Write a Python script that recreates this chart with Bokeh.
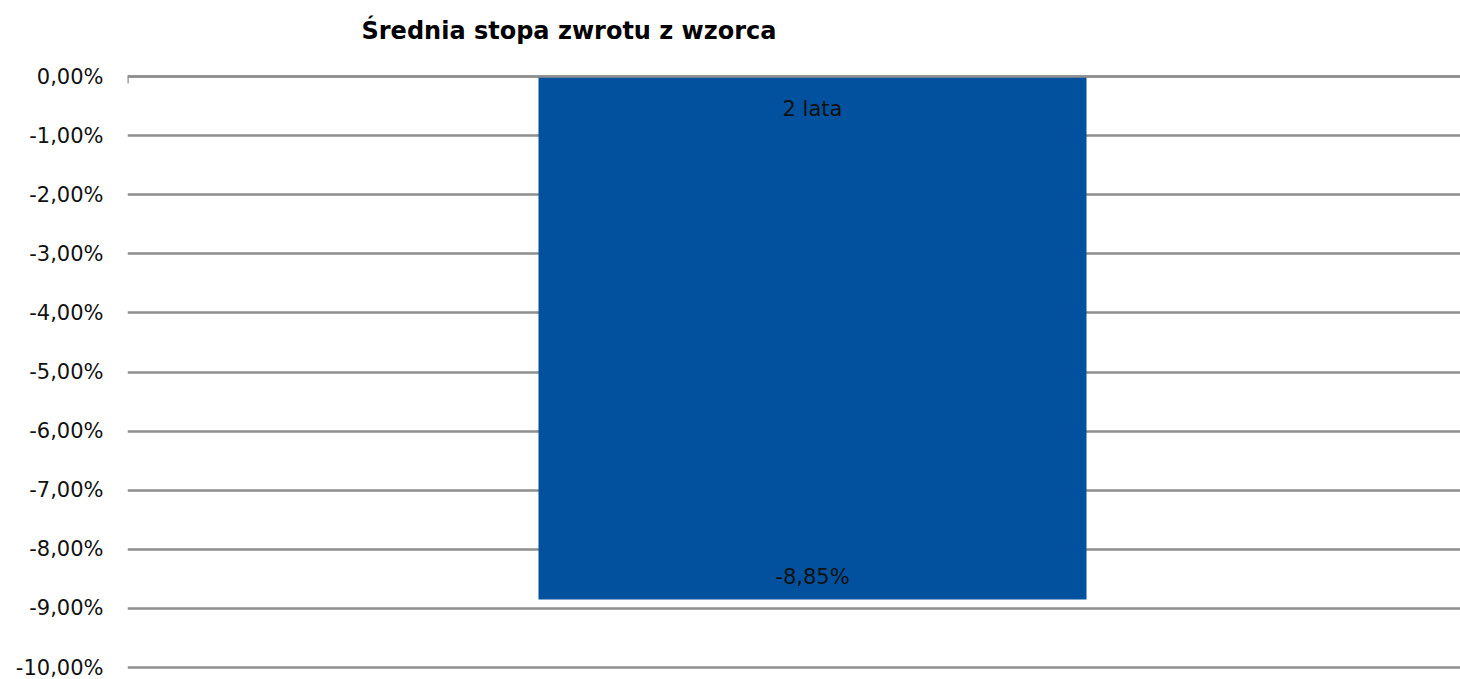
from bokeh.plotting import figure
from bokeh.models import Range1d, FixedTicker, LinearAxis, ColumnDataSource, CustomJSTickFormatter, Label
from bokeh.core.properties import value
from bokeh.embed import file_html
from bokeh.resources import INLINE

title_text = "Średnia stopa zwrotu z wzorca"
categories = ["2 lata"]
values = [-8.85]
value_labels = ["-8,85%"]
y_ticks = [0, -1, -2, -3, -4, -5, -6, -7, -8, -9, -10]

FONT = "DejaVu Sans"
idx = [i + 0.5 for i in range(len(categories))]
src = ColumnDataSource(dict(x=idx, top=[0] * len(values), bottom=values,
                            cat=categories, lab=value_labels))

p = figure(width=1460, height=679, output_backend="svg", toolbar_location=None,
           x_range=Range1d(0, 0.973 * len(categories)), y_range=Range1d(-10.05, 1.286),
           min_border_left=127, min_border_right=0, min_border_top=0, min_border_bottom=9,
           outline_line_color=None)

title = Label(x=0, y=0, text=title_text, x_offset=234, y_offset=46,
              text_align="left", text_baseline="middle", text_font=FONT,
              text_font_size="24px", text_font_style="bold", text_color="#000000")
p.add_layout(title)

p.vbar(x="x", top="top", bottom="bottom", width=0.4, source=src,
       fill_color="#01519E", line_color=None)

p.text(x="x", y="top", text="cat", source=src, text_align="center", text_baseline="top",
       y_offset=20, text_font=value(FONT), text_font_size="21px", text_color="#111111")
p.text(x="x", y="bottom", text="lab", source=src, text_align="center", text_baseline="bottom",
       y_offset=-11, text_font=value(FONT), text_font_size="21px", text_color="#111111")

p.xaxis.visible = False
p.xgrid.visible = False
p.ygrid.ticker = FixedTicker(ticks=y_ticks)
p.ygrid.grid_line_color = "#8f8f8f"
p.ygrid.grid_line_width = 2.5

yax = p.yaxis[0]
yax.ticker = FixedTicker(ticks=y_ticks)
yax.formatter = CustomJSTickFormatter(code="return tick.toFixed(2).replace('.', ',') + '%';")
yax.axis_line_color = None
yax.major_tick_line_color = None
yax.minor_tick_line_color = None
yax.major_label_standoff = 18
yax.major_label_text_font = FONT
yax.major_label_text_font_size = "21px"
yax.major_label_text_color = "#111111"

top_ax = LinearAxis(ticker=FixedTicker(ticks=[0, len(categories)]), fixed_location=0,
                    major_label_overrides={0: "", len(categories): ""},
                    major_label_standoff=0, axis_line_color="#8f8f8f",
                    axis_line_width=2.5, major_tick_line_color="#8f8f8f",
                    major_tick_line_width=2.5, major_tick_in=0, major_tick_out=7,
                    minor_tick_line_color=None)
p.add_layout(top_ax, "below")

open("out.html", "w").write(file_html(p, INLINE))
